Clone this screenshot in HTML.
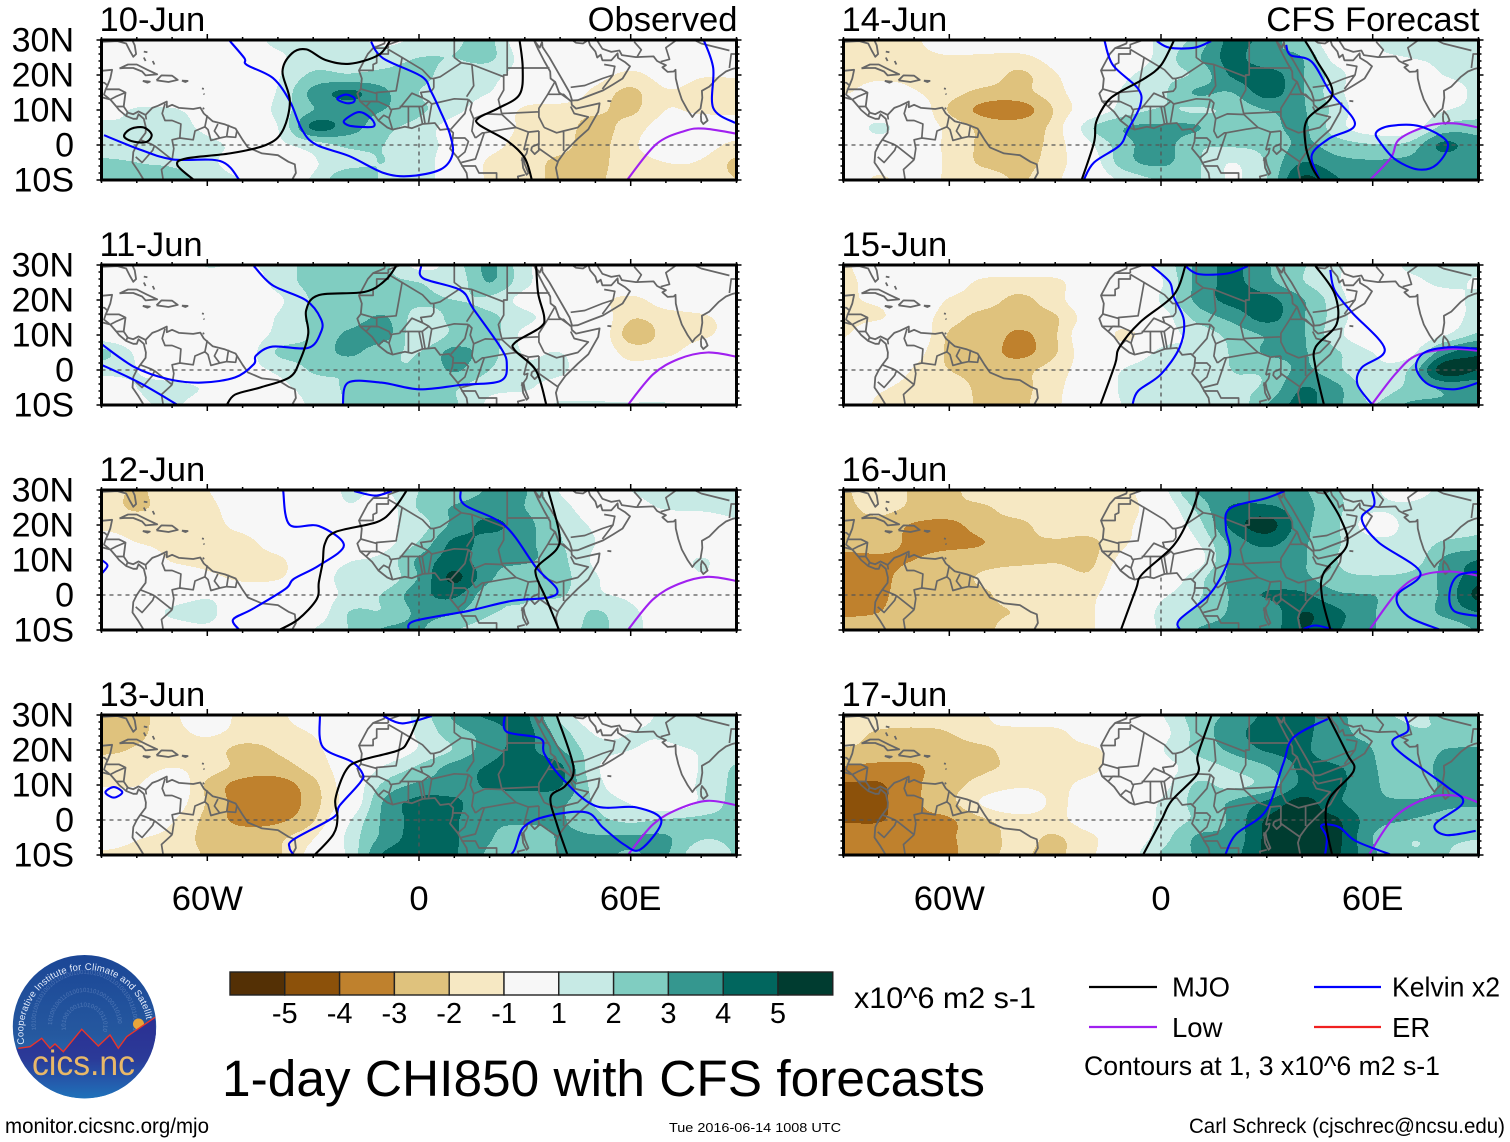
<!DOCTYPE html>
<html lang="en">
<head>
<meta charset="utf-8">
<title>1-day CHI850 with CFS forecasts</title>
<style>
html,body{margin:0;padding:0;background:#fff;}
#chart{display:block;width:1510px;height:1142px;font-family:"Liberation Sans",Arial,sans-serif;}
text{font-family:"Liberation Sans",Arial,sans-serif;fill:#000;}
</style>
</head>
<body>
<svg id="chart" xmlns="http://www.w3.org/2000/svg" width="1510" height="1142" viewBox="0 0 1510 1142">
  <defs>
    <linearGradient id="logoSky" x1="0" y1="0" x2="0" y2="1">
      <stop offset="0" stop-color="#1b4696"/><stop offset="0.55" stop-color="#25589f"/><stop offset="1" stop-color="#2a78bf"/>
    </linearGradient>
    <linearGradient id="logoHill" x1="0" y1="0" x2="0" y2="1">
      <stop offset="0" stop-color="#2b2f92"/><stop offset="0.5" stop-color="#2b3a98"/><stop offset="1" stop-color="#1f74bb"/>
    </linearGradient>
    <clipPath id="logoClip"><circle cx="84.5" cy="1026.7" r="71.7"/></clipPath>
    <path id="logoArc" d="M 24.5 1044 A 62 62 0 1 1 146.5 1020"/>
    <path id="logoBin1" d="M 36 1030 A 49 49 0 1 1 133 1030"/>
    <path id="logoBin2" d="M 52 1025 A 33 33 0 1 1 118 1025"/>
    <path id="logoBin3" d="M 66 1030 A 19 19 0 1 1 103 1030"/>
  </defs>
  <g id="panels"></g>
  <g id="colorbar"></g>

  <text x="854" y="1008" font-size="30" textLength="182" lengthAdjust="spacingAndGlyphs">x10^6 m2 s-1</text>
  <text x="222" y="1096" font-size="51.4" textLength="763" lengthAdjust="spacingAndGlyphs">1-day CHI850 with CFS forecasts</text>

  <g>
    <line x1="1089" y1="987" x2="1157" y2="987" stroke="#000" stroke-width="2.2"/>
    <text x="1172" y="996.5" font-size="27.5" textLength="58" lengthAdjust="spacingAndGlyphs">MJO</text>
    <line x1="1314" y1="987" x2="1381" y2="987" stroke="#0000ff" stroke-width="2.2"/>
    <text x="1392" y="996.5" font-size="27.5" textLength="108" lengthAdjust="spacingAndGlyphs">Kelvin x2</text>
    <line x1="1089" y1="1027" x2="1157" y2="1027" stroke="#a020f0" stroke-width="2.2"/>
    <text x="1172" y="1037" font-size="27.5">Low</text>
    <line x1="1314" y1="1027" x2="1381" y2="1027" stroke="#f02020" stroke-width="2.2"/>
    <text x="1392" y="1037" font-size="27.5">ER</text>
    <text x="1084" y="1075" font-size="26.5" textLength="356" lengthAdjust="spacingAndGlyphs">Contours at 1, 3 x10^6 m2 s-1</text>
  </g>

  <text x="5" y="1133" font-size="21" textLength="204" lengthAdjust="spacingAndGlyphs">monitor.cicsnc.org/mjo</text>
  <text x="669" y="1132" font-size="13" textLength="172" lengthAdjust="spacingAndGlyphs">Tue 2016-06-14 1008 UTC</text>
  <text x="1189" y="1133" font-size="21" textLength="316" lengthAdjust="spacingAndGlyphs">Carl Schreck (cjschrec@ncsu.edu)</text>

  <g>
    <circle cx="84.5" cy="1026.7" r="71.7" fill="url(#logoSky)"/>
    <g opacity="0.25" fill="#cfe0ff" font-size="6">
      <text style="fill:#cfe0ff"><textPath href="#logoBin1">1010010011010010110100100110100101101001001101001011010010011010010110</textPath></text>
      <text style="fill:#cfe0ff"><textPath href="#logoBin2">10100100110100101101001001101001011010010011</textPath></text>
      <text style="fill:#cfe0ff"><textPath href="#logoBin3">101001001101001011010</textPath></text>
    </g>
    <circle cx="138.5" cy="1024" r="5.5" fill="#e8a53a"/>
    <g clip-path="url(#logoClip)">
      <polygon points="10,1050 18.3,1048.3 30,1046.7 41.7,1038.3 50,1048.3 55,1044 63.3,1051.7 81.7,1029.3 98.3,1046 110,1035 118.3,1048.3 126.7,1036.7 155,1017.3 160,1100 10,1100" fill="url(#logoHill)"/>
      <polyline points="18.3,1048.3 30,1046.7 41.7,1038.3 50,1048.3 55,1044 63.3,1051.7 81.7,1029.3 98.3,1046 110,1035 118.3,1048.3 126.7,1036.7 155,1017.3" fill="none" stroke="#e8352b" stroke-width="1.4"/>
    </g>
    <text font-size="9.5" style="fill:#e6eefc"><textPath href="#logoArc" textLength="205" lengthAdjust="spacing">Cooperative Institute for Climate and Satellites</textPath></text>
    <text x="32" y="1075" font-size="35" textLength="103" lengthAdjust="spacingAndGlyphs" style="fill:#e8b868">cics.nc</text>
  </g>
</svg>

<script>
// ---------- colour scale ----------
const colorLevels = [-5,-4,-3,-2,-1,1,2,3,4,5];
const colorLevelLabels = ['-5','-4','-3','-2','-1','1','2','3','4','5'];
const bandColors = ['#543005','#8c510a','#bf812d','#dfc27d','#f6e8c3','#f7f7f7','#c7eae5','#80cdc1','#35978f','#01665e','#003c30'];

// ---------- axis labels ----------
const lonTickValues = [-60,0,60];
const lonTickLabels = ['60W','0','60E'];
const latTickValues = [30,20,10,0,-10];
const latTickLabels = ['30N','20N','10N','0','10S'];
const panelDates = ['10-Jun','11-Jun','12-Jun','13-Jun','14-Jun','15-Jun','16-Jun','17-Jun'];
const columnTags = ['Observed','CFS Forecast'];

// ---------- CHI850 anomaly fields: rows 30N..10S every 5deg, columns 90W..90E every 10deg ----------
const chiJun10 = [
[0,0,0,0,0.3,1.3,1.3,1.3,0.8,1.2,1.8,2.2,0,0,0,0,0,0,0],
[0,0,0,0,0,0.8,1.5,1.5,1.5,2.0,2.0,2.2,0.5,0,0,0,0,0,0],
[0,0,0,0,0,0.9,2.2,2.1,2.3,2.3,1.5,1.3,0.5,0,-0.5,-1.3,-0.5,-0.9,-0.9],
[0,0,0,0,0,1.1,3.3,4.2,3.2,2.0,1.5,1.0,0,0,-1.3,-2.2,-1.1,-1.3,-1.3],
[0.5,1.1,1.1,0.5,0,1.3,3.0,3.4,3.0,2.2,1.3,0.2,-1.2,-1.5,-1.8,-2.2,-1.0,-1.2,-1.3],
[1.3,1.0,1.3,0.8,0.3,1.0,4.2,3.5,2.3,1.6,0.5,0,-1.3,-1.5,-2.4,-1.5,-0.5,-0.2,-0.3],
[1.5,1.3,1.5,1.2,0.8,0.8,1.5,2.2,2.0,1.3,0.7,-0.5,-1.5,-1.7,-2.4,-1.2,-0.5,-0.5,-1.3],
[2.2,2.0,1.8,1.2,0.6,0.3,0.9,1.6,2.0,1.3,0.5,-1.2,-1.6,-2.2,-2.3,-1.4,-1.0,-1.1,-2.2],
[3.0,2.2,2.6,1.5,1.0,1.0,1.1,3.0,1.8,1.3,0.5,-1.2,-1.5,-2.3,-2.2,-1.4,-1.2,-1.4,-2.0]];
const chiJun11 = [
[0,0,0,1.1,0.8,1.5,2.3,2.2,2.2,0.7,1.5,3.2,1.3,0,0,0,0,0,0],
[0,0,0,0,0,1.4,2.3,2.4,2.2,2.0,1.4,3.0,1.3,0,0,0,0,0,0],
[0,0,0,0,0,0.8,2.1,2.1,2.2,2.2,2.0,1.8,0.6,0,-0.6,-1.3,-0.4,0,0],
[0,0,0,0,0,1.1,2.2,2.4,3.1,1.6,2.2,2.2,1.3,0.4,0,-1.9,-1.5,-1.2,-0.5],
[0.3,0,0,0,0.2,1.3,2.1,3.2,3.4,1.3,2.2,2.4,0.7,0.1,0,-2.4,-1.7,-1.2,-0.6],
[2.3,0.8,0,0,0.3,2.1,2.3,3.2,2.3,2.0,3.3,2.4,0.9,1.0,0,-1.4,-1.3,-0.3,0],
[1.3,1.0,0.5,0.3,0.6,1.2,2.1,2.1,2.1,2.1,3.1,2.0,1.2,1.2,0,-0.6,0,0,0],
[0.5,1.0,1.2,0.9,0.5,0.7,1.5,2.1,2.1,2.1,2.1,1.3,1.1,0.6,0,0,0,0,0],
[0,0.8,1.1,0.6,0.5,0.4,1.2,2.1,2.1,2.1,2.1,0.8,0.5,1.1,1.2,1.1,1.1,0.5,0]];
const chiJun12 = [
[-1.6,-2.1,-1.5,-1.05,0,0,0,1.2,0.9,2.0,2.3,3.1,3.1,0.9,0,1.0,1.2,1.1,1.3],
[-1.6,-2.1,-1.6,-1.3,-0.3,0,0,0.9,0.5,2.1,3.1,3.5,3.0,1.5,0.3,0.6,1.1,1.2,1.4],
[-1.3,-1.5,-1.5,-1.4,-0.6,0,0,0.4,0.8,1.5,3.3,4.2,3.4,1.9,0.8,0.3,0,0,0.7],
[-0.3,-1.0,-1.3,-1.4,-1.4,-0.3,0,0.3,0.6,2.1,4.2,3.6,3.3,2.1,1.0,0.3,0,0,0],
[0,0,-1.1,-1.4,-1.5,-1.2,0,0.9,1.3,3.2,4.4,3.3,3.2,2.3,0.8,0,0,1.1,0],
[0,0,0,-0.6,-1.3,-1.1,0,1.5,1.3,3.1,5.2,3.2,2.1,2.3,1.1,0.3,0,0.9,0],
[0,0,0.3,0.8,0.2,0,0.3,1.3,2.1,3.6,4.2,2.3,2.1,2.1,1.2,0.8,0.3,0.7,0.3],
[0,0,1.2,1.3,0,0,0.2,2.0,2.1,3.2,3.1,2.1,1.8,1.3,2.1,1.2,0.5,0,0],
[0,0,0.3,0.8,0,0,1.0,2.0,3.1,3.1,2.1,1.5,1.2,1.5,2.2,1.4,0.3,0,0]];
const chiJun13 = [
[-2.4,-2.3,-1.3,0,-1.4,-1.3,0,0,0,1.4,3.2,4.2,4.2,1.7,0.3,0.8,1.1,1.5,1.3],
[-2.2,-2.2,-1.4,-0.8,-1.4,-1.5,-0.9,0,0,1.2,2.6,3.4,4.3,2.5,0.9,1.0,1.1,1.6,1.3],
[-2.2,-1.9,-1.5,-1.5,-2.3,-1.9,-1.3,-0.2,0.1,1.1,2.1,3.6,4.2,3.1,1.4,1.0,0.8,1.1,1.5],
[-1.3,-1.5,-1.0,-1.5,-2.3,-2.4,-1.6,-0.3,1.1,2.2,3.4,4.1,4.4,4.2,1.2,0.3,0,1.1,2.1],
[-1.1,-1.05,0,-2.2,-3.4,-3.5,-2.3,-0.2,2.2,3.2,3.4,4.2,4.3,4.1,1.5,0,0,1.2,2.2],
[0,0,-0.3,-2.1,-3.5,-3.8,-2.4,-0.3,3.1,4.3,4.2,3.2,3.3,3.2,1.9,0.9,0,1.2,2.3],
[0,0,-0.9,-2.3,-3.3,-3.2,-2.1,0.8,3.2,4.3,4.1,3.2,3.2,3.1,2.3,1.8,2.1,2.2,2.2],
[-0.3,-0.9,-1.3,-2.3,-2.4,-2.2,-1.1,1.3,3.3,4.4,4.1,3.1,2.3,3.1,3.1,3.1,3.1,2.1,2.2],
[-1.2,-1.3,-1.4,-2.1,-2.2,-2.1,-0.5,1.2,4.1,4.3,4.1,2.8,2.0,3.1,3.2,2.9,3.1,1.2,2.1]];
const chiJun14 = [
[-1.4,-1.4,-1.2,0,0,0,0,0,0,1.3,2.3,4.3,3.5,2.1,0,0.9,1.2,1.2,1.5],
[-1.3,-1.3,-1.3,-1.1,-1.2,-1.3,-0.5,0,0,1.4,2.8,4.3,3.2,3.0,0.5,0.8,1.0,1.2,1.6],
[-1.3,-1.2,-1.2,-1.2,-1.4,-2.2,-1.1,0,0.8,1.7,2.2,4.1,4.5,3.1,1.4,0,0.2,1.0,1.4],
[-1.1,-0.5,-0.9,-1.6,-2.3,-2.3,-1.4,0,1.2,1.8,3.1,3.0,4.4,3.1,1.3,0,0,0.2,1.3],
[0,0,0,-2.1,-3.3,-3.5,-1.9,0,1.5,2.1,1.9,2.2,3.0,3.1,1.6,0,0,0.9,1.4],
[0,1.2,0,-1.3,-2.3,-2.4,-1.6,1.8,3.0,3.2,3.1,2.1,2.6,3.2,1.4,0.3,0.3,2.3,2.6],
[0,0.3,0,-1.3,-2.2,-2.3,-1.6,0.8,2.7,3.4,2.2,2.1,2.3,3.2,2.5,2.1,2.3,4.2,3.3],
[0,-0.3,-0.3,-1.2,-2.2,-2.3,-1.5,0.3,2.6,3.2,2.2,1.0,2.1,4.0,3.3,3.1,3.2,3.3,3.1],
[0,-1.2,-0.3,-1.2,-1.4,-2.1,-1.2,0.1,1.3,2.1,2.1,0.9,2.0,5.2,4.1,3.2,3.1,3.1,3.1]];
const chiJun15 = [
[-1.2,0,0,0,0,0,0,0,0,1.2,3.2,4.2,3.1,2.1,1.2,0,1.2,1.2,1.3],
[-1.4,-0.3,0,-0.3,-1.3,-1.4,-1.3,0,0,0.9,3.2,4.2,3.3,2.1,1.1,0,0.6,1.2,0.9],
[-1.1,-0.8,0,-1.1,-1.6,-2.2,-1.4,0,0,1.1,3.2,4.3,4.3,3.1,1.4,0.1,0,0.4,1.3],
[-1.2,-1.1,-0.4,-1.6,-2.3,-2.4,-2.1,-0.4,0,0.5,2.3,3.3,4.3,3.1,1.5,0,0,0.2,1.5],
[-1.1,0,0,-2.1,-2.3,-3.2,-2.1,0,-1.3,0.5,1.3,2.3,3.1,3.1,1.3,0,0,0.9,2.2],
[0,0,-0.5,-2.2,-2.5,-3.3,-2.1,-0.2,0,1.2,1.1,2.1,3.1,3.1,2.1,1.0,0.5,3.6,4.8],
[0,0,-1.1,-2.0,-2.5,-2.3,-1.5,-0.2,1.1,1.5,1.5,2.0,2.2,3.2,2.2,1.2,2.0,5.5,5.0],
[0,-0.8,-1.3,-1.3,-2.4,-2.3,-1.3,0,1.2,1.4,1.3,1.8,2.2,4.0,3.2,1.5,2.2,3.2,3.2],
[0,-1.2,-1.2,-1.2,-2.3,-2.2,-1.2,0,1.1,1.4,1.4,1.2,3.0,4.3,3.2,2.0,3.1,3.1,3.1]];
const chiJun16 = [
[-2.2,-1.1,-2.2,-2.2,-1.5,-1.4,-1.4,-1.4,-1.3,0.5,3.1,3.1,3.1,3.1,2.1,1.2,0.5,1.3,1.8],
[-2.3,-1.6,-2.2,-2.2,-2.1,-1.5,-1.4,-1.4,-1.4,0,2.2,4.1,4.2,3.4,2.2,1.2,1.2,1.5,1.1],
[-2.4,-2.4,-3.1,-3.3,-2.4,-2.2,-1.5,-1.5,-1.2,0,1.5,4.3,5.4,3.4,2.1,0.5,1.2,1.3,1.8],
[-2.5,-2.4,-3.3,-3.4,-3.0,-2.2,-2.1,-2.2,-1.1,0,0.9,3.3,4.3,3.2,2.1,1.3,1.2,2.1,2.3],
[-3.4,-3.3,-3.0,-2.4,-2.3,-2.2,-2.1,-2.2,-0.5,0,0.4,3.2,3.3,3.1,2.0,1.3,1.2,3.1,4.0],
[-3.4,-3.4,-2.3,-2.2,-1.9,-1.5,-1.4,-1.8,0,0,1.5,3.2,3.2,3.2,2.3,2.1,2.3,3.2,4.6],
[-3.3,-3.3,-2.1,-2.1,-2.1,-1.5,-1.3,-1.2,0,0.8,1.8,3.1,4.1,4.2,3.2,3.0,2.5,3.2,5.3],
[-3.2,-3.0,-2.2,-2.6,-2.2,-1.9,-1.3,-1.1,0,1.2,2.2,3.1,3.2,5.0,4.2,3.1,2.3,3.2,4.0],
[-2.3,-2.3,-2.2,-2.3,-2.2,-1.4,-1.3,-1.1,0,1.2,3.0,3.2,3.3,5.0,4.1,3.1,2.1,2.2,3.1]];
const chiJun17 = [
[-1.3,-1.3,-1.4,-1.5,-1.1,0,0,0,0,0.9,2.5,3.2,4.2,4.3,3.3,2.3,1.9,2.1,2.2],
[-1.6,-2.1,-2.2,-2.0,-1.3,-1.4,-1.3,-0.3,0,0.6,2.3,3.6,4.4,4.3,3.2,2.8,2.1,2.1,2.2],
[-2.1,-2.3,-2.3,-2.4,-2.2,-1.4,-1.3,-1.2,-0.3,0.9,2.2,3.2,4.1,4.2,3.2,3.0,2.1,3.0,3.1],
[-3.1,-3.3,-3.2,-2.3,-2.1,-1.8,-1.5,-1.3,-0.2,0.5,1.5,2.1,2.9,4.2,4.1,3.1,2.5,3.2,3.2],
[-4.1,-4.1,-3.2,-2.3,-1.7,-1.2,-1.3,-0.6,0,0.6,2.1,1.8,2.4,4.2,4.2,3.2,2.4,3.1,3.1],
[-4.3,-4.2,-3.2,-2.3,-0.8,0,-1.2,-0.3,0,1.1,2.3,3.1,4.2,5.3,4.2,3.2,3.1,3.1,3.1],
[-4.1,-4.1,-3.2,-3.1,-2.1,-1.5,-1.4,-0.3,0,1.2,2.2,3.2,5.1,5.3,5.1,3.4,3.0,2.8,2.5],
[-3.2,-3.2,-3.2,-3.1,-2.4,-1.7,-2.1,-1.2,0,1.5,3.1,3.3,5.2,5.3,5.2,3.0,2.1,2.2,2.1],
[-3.2,-3.2,-3.2,-3.2,-2.2,-1.9,-2.2,-1.2,0.3,2.1,3.1,3.6,5.2,5.3,5.1,3.2,2.1,2.1,1.2]];
const chiFields = [chiJun10,chiJun11,chiJun12,chiJun13,chiJun14,chiJun15,chiJun16,chiJun17];

// ---------- filtered-wave contours, [lon, lat] ----------
const mjoJun10 = [
 [[-8.1,30],[-11.5,25.7],[-19.7,23.2],[-26.5,24.3],[-31.9,27.3],[-36,26.2],[-38.7,21],[-36.6,12.5],[-38.7,4],[-43.4,0],[-53.6,-2.4],[-65.8,-3.8],[-68.5,-5.7],[-63.8,-10]],
 [[-83.5,3],[-81.5,4.7],[-78,5],[-75.8,3],[-77,1],[-80,0.8],[-83,1.8],[-83.5,3]],
 [[28.5,30],[29.4,22],[28.5,14.4],[22.4,10.5],[17,7.8],[17,5.8],[25,1.2],[29.9,-3.6],[32,-10]]];
const kelvinJun10 = [
 [[-53.6,29.7],[-49.5,24.8],[-48.8,22.9],[-41.4,19.1],[-36.6,12.5],[-33.2,4.4],[-29.2,0.1],[-19.7,-3.2],[-10.2,-7.9],[-2.7,-8.9],[6.1,-7],[9.5,-2.7],[8.8,3],[6.1,9.6],[3.4,15.3],[0.7,19.6],[-10.2,24.8],[-13.6,29.5]],
 [[-23.2,13.2],[-20.8,14.4],[-18.4,13.5],[-18.6,12.2],[-20.8,12],[-23.2,13.2]],
 [[-21.2,7],[-17,9.4],[-13.5,7.5],[-12.8,5.3],[-17,5.2],[-20,5.6],[-21.2,7]],
 [[-89.3,2.8],[-79.1,-1.3],[-69.9,-4.1],[-56.3,-4.6],[-50.9,-10]],
 [[80.7,30],[83.4,22],[83.4,10.6],[89.6,6.3]]];
const lowJun10 = [[[59,-10],[67.2,0.2],[75.3,4],[80.7,4.7],[89.6,3.3]]];
const mjoJun11 = [
 [[-6.5,29.7],[-9.5,25.7],[-15.4,22.3],[-28.4,21.4],[-32,17],[-31.4,10.3],[-33.8,2.6],[-36.7,-2.1],[-45,-5],[-52.1,-7],[-54.5,-10]],
 [[33.2,29.7],[33.8,21.8],[35.5,15.1],[34.4,12.2],[27.3,7.9],[27.3,5.5],[33.2,-0.2],[36.1,-10]]];
const kelvinJun11 = [
 [[-46.8,29.7],[-41.5,24.2],[-32,19.9],[-27.8,14.6],[-27.8,10.8],[-31.4,6.3],[-41.5,6.7],[-46.2,4.1],[-46.8,1.7],[-52.1,-2.1],[-61.6,-3.6],[-71.1,-2.6],[-80.6,0.8],[-90,7.4]],
 [[-90,1.5],[-79.3,-3.6],[-68.7,-9.8]],
 [[0.6,29.7],[1.2,26.2],[11.8,22.8],[15.4,17.5],[23.1,6.5],[24.9,1.7],[23.1,-3.1],[11.8,-4.3],[0,-5.5],[-10.7,-3.6],[-20.1,-3.6],[-21.6,-10]]];
const lowJun11 = [[[59.2,-10],[66.4,-1.2],[73.5,3.1],[81.8,5],[90,3.8]]];
const mjoJun12 = [
 [[-3.6,29.7],[-7.1,24.7],[-11.8,20.9],[-23.7,18],[-26.7,14.6],[-27.3,9.4],[-28.4,3.6],[-29,-1.2],[-34.3,-7],[-39.7,-10]],
 [[36.7,29.7],[39.7,18],[39.1,13.2],[33.8,8.4],[33.2,5.5],[36.1,-1.2],[39.7,-10]]];
const kelvinJun12 = [
 [[-38.5,29.7],[-36.7,20.1],[-28.4,19.7],[-21.3,14.2],[-28.4,8.4],[-35.5,4.6],[-37.9,1.7],[-47.4,-4.1],[-52.7,-7],[-50.9,-10]],
 [[-18.4,29.7],[-12.4,28.4],[-7.7,29.7]],
 [[11.8,29.7],[13,25.7],[24.3,19.9],[33.2,7.9],[39.1,1.7],[36.7,-0.7],[26.1,-1.7],[14.2,-4.5],[-1.2,-7.4],[-3,-10]],
 [[-89.8,9.9],[-88.3,8.4],[-89.8,6.3]]];
const lowJun12 = [[[59.2,-10],[66.4,-1.2],[73.5,3.1],[81.8,5.2],[90,4]]];
const mjoJun13 = [
 [[0,29.7],[-3,22.8],[-5.9,19.9],[-16.6,17],[-20.7,14.2],[-23.7,6],[-23.1,0.7],[-24.3,-4.1],[-29.6,-10]],
 [[39.1,29.7],[43.8,15.1],[41.5,9.8],[37.3,6.5],[39.1,-1.2],[42.1,-10]]];
const kelvinJun13 = [
 [[-28.1,29.7],[-27.3,20.9],[-19,16.6],[-16,13.2],[-16.6,10.8],[-22.5,4.1],[-24.3,0.7],[-35.5,-5.5],[-36.7,-7.9],[-35.5,-10]],
 [[-10.1,29.7],[-4.7,27.6],[3.6,29.7]],
 [[24.3,29.7],[24.9,25.2],[34.4,23.3],[35.5,19],[40.3,12.2],[49.8,4.1],[61.6,3.6],[68.7,-0.2],[62.8,-8.4],[58.1,-7],[52.1,-2.1],[47.4,2.2],[36.7,1.2],[29.6,-2.1],[26.1,-9.8],[19,-10]],
 [[-88.9,7.9],[-86.5,9.4],[-84.1,7.9],[-86.5,6.4],[-88.9,7.9]]];
const lowJun13 = [[[59.2,-10],[66.4,-1.2],[73.5,3.1],[81.8,5.5],[90,4.2]]];
const mjoJun14 = [
 [[3.6,29.7],[0,22.8],[-4.7,19],[-11.8,15.1],[-15.4,12.2],[-18.4,6.5],[-19,0.7],[-22.5,-10]],
 [[40.9,29.7],[43.8,24.7],[48.6,14.6],[41.5,7.4],[40.9,0.7],[42.7,-6],[45,-10]]];
const kelvinJun14 = [
 [[-16,29.7],[-13.6,22.8],[-6.5,16.1],[-5.9,11.3],[-9.5,4.1],[-11.8,-0.2],[-19,-5],[-21.9,-10]],
 [[-1.2,29.7],[2.4,27.8],[9.5,27.8],[14.2,29.7]],
 [[35.5,28.6],[36.7,25.7],[42.7,23.8],[48,15.1],[55,6],[47.4,1.7],[42.7,-3.1],[45,-10]],
 [[61,3.6],[65.2,5.5],[73.5,5.3],[81.2,0.7],[78.2,-5.5],[72.9,-7],[66.4,-4.1],[62.2,0.7],[61,3.6]]];
const lowJun14 = [[[59.2,-10],[65.2,-3.6],[67.6,1.7],[75.8,5.5],[82.9,6.2],[90,5]]];
const mjoJun15 = [
 [[6.9,29.7],[3.6,21.4],[-5.9,13.7],[-11.8,6.5],[-13,1.7],[-17.2,-10]],
 [[43.8,29.7],[49.2,21.8],[49.8,13.2],[43.8,6.5],[43.8,0.7],[46.2,-10]]];
const kelvinJun15 = [
 [[-2.6,29.7],[2.4,25.2],[3.6,20.9],[6.5,14.2],[5.3,6.5],[0,-1.2],[-6.5,-6],[-8.1,-10]],
 [[6.9,29.7],[10.7,27.4],[19,27.6],[24.6,29.7]],
 [[48,28.6],[49.2,22.8],[54,16.6],[63.4,6],[56.9,0.7],[55.7,-4.1],[59.8,-9.8]],
 [[90,6],[81.8,6.5],[74.7,5],[72.3,0.7],[75.8,-4.1],[83,-5.5],[90,-3.6]]];
const lowJun15 = [[[59.8,-9.8],[66.4,-1.2],[72.3,4.1],[81.8,6],[90,5.5]]];
const mjoJun16 = [
 [[10.7,29.7],[8.3,22.8],[3.6,14.2],[-5.3,6],[-7.1,1.7],[-11.3,-9.8]],
 [[46.2,29.7],[50.9,21.8],[52.7,14.2],[46.2,6.5],[45.6,-0.2],[48,-9.8]]];
const kelvinJun16 = [
 [[35,29.7],[29.6,27.6],[19.5,24.7],[18.4,19],[19.5,11.3],[14.2,0.7],[5.3,-7],[5.3,-9.8]],
 [[59.8,29.7],[60.4,25.7],[56.9,21.8],[61.6,15.1],[73.5,6.5],[66.9,-0.2],[69.9,-6],[78.8,-9.8]],
 [[40.3,-9.7],[43.8,-8.7],[48.6,-9.8]],
 [[90,6.7],[84.1,5.5],[81.8,0.7],[83,-4.5],[90,-6]]];
const lowJun16 = [[[59.2,-9.8],[66.9,0.7],[73.5,5.5],[81.8,6.7],[90,5.5]]];
const mjoJun17 = [
 [[14.3,29.8],[12.1,23.6],[10.3,17.9],[10.3,13.1],[3,5.5],[0,-0.3],[-5.1,-10]],
 [[47.3,29.8],[52.8,18.8],[54.6,14],[47.9,6.4],[46.7,-0.3],[48.5,-10]]];
const kelvinJun17 = [
 [[47.3,28.9],[37.6,23.6],[34.6,16],[29.7,2.6],[21.2,-4.1],[18.2,-10]],
 [[69.2,29.8],[70,25.5],[65.9,21.2],[80.7,9.8],[85.6,5],[77.7,-1.2],[80.7,-4.3],[89.2,-3.1]],
 [[46.5,-10],[47,-5],[45.5,-1.5],[50.4,-2],[55.2,-6],[64.9,-9.8]]];
const lowJun17 = [[[58.9,-10],[66.1,0.7],[75.8,6.4],[84.3,6.9],[90,5]]];
const mjoContours = [mjoJun10,mjoJun11,mjoJun12,mjoJun13,mjoJun14,mjoJun15,mjoJun16,mjoJun17];
const kelvinContours = [kelvinJun10,kelvinJun11,kelvinJun12,kelvinJun13,kelvinJun14,kelvinJun15,kelvinJun16,kelvinJun17];
const lowContours = [lowJun10,lowJun11,lowJun12,lowJun13,lowJun14,lowJun15,lowJun16,lowJun17];

// ---------- geography, [lon, lat] ----------
const coastlines = [
 [[-90,29.5],[-85.5,29.7],[-83,29],[-82,27],[-81,25.2],[-80.2,26],[-80.6,28.5],[-81.3,30]],
 [[-90.5,20],[-90,21.2],[-87,21.5],[-87.5,19],[-88.3,17],[-88.8,15.9],[-85,15.9],[-83.2,15],[-83.7,11],[-82.5,9.2],[-81,8.8],[-79.5,9.6],[-77.5,8.6],[-75.6,10.6],[-74,11.2],[-71.5,12.4],[-71.5,10.8],[-70,11.5],[-68,10.6],[-64,10.3],[-62,10.7],[-61,9],[-58.5,6.8],[-55,5.9],[-52,4.7],[-50,1.5],[-48.5,-0.7],[-44.5,-2.4],[-40,-2.9],[-37,-4.8],[-35.2,-5.5],[-34.9,-8],[-36,-10]],
 [[-90.5,13.8],[-87.5,13],[-85.8,11],[-85,10],[-83,8.3],[-81,7.5],[-80,7.5],[-79.5,8.8],[-78,7.5],[-77.4,5],[-77.5,3.5],[-79,1.5],[-80,0],[-81,-2],[-81.2,-5],[-79.5,-7.5],[-78,-10]],
 [[-84.9,21.9],[-82.5,23],[-80,23],[-77,21.5],[-74.2,20.2],[-77.5,19.9],[-78.5,21],[-81,22],[-83.5,22],[-84.9,21.9]],
 [[-74.4,18.5],[-73,19.9],[-70,19.8],[-68.4,18.6],[-71,18],[-74.4,18.5]],
 [[-78.3,18.3],[-76.3,18.1],[-77,17.8],[-78.3,18.3]],
 [[-67.2,18.4],[-65.6,18.3],[-66.2,18],[-67.2,18.4]],
 [[-78,26.7],[-77,26.5]],[[-78,25],[-77.5,24]],[[-75.5,24],[-75,23]],[[-61.5,16.2],[-61,16]],[[-61,14.7],[-60.9,14.4]],[[-61.2,10.7],[-61,10.2]],
 [[-9.6,30],[-9.8,29],[-13,27.7],[-14.5,26],[-17,21.3],[-16.2,19],[-16.5,16],[-17.5,14.7],[-16.7,12.5],[-15,11],[-13.3,9.5],[-11.5,7],[-9,5],[-7.5,4.4],[-4,5.2],[-2,4.8],[1,6],[4.5,6.3],[6,4.3],[8.5,4.6],[9.7,3.5],[9.5,1],[8.8,-1],[11,-3.7],[12,-5.5],[13.5,-8],[13.8,-10]],
 [[32.6,29.9],[33.7,27.5],[35.5,24],[37.2,21],[37.3,19],[38.6,18],[39.7,15],[43.2,12.5],[43.3,11.5],[44.5,10.4],[51.2,11.9],[50.8,9.5],[48,4.5],[45,1.8],[41.5,-1.7],[39.5,-4.5],[38.8,-6.5],[39.5,-10]],
 [[34.9,29.5],[35,28],[37,25],[39,21.5],[41,18],[42.7,15],[43.4,12.7],[45,12.8],[48,14],[52.2,15.6],[55,17.3],[57.7,19],[59.8,22.5],[58.5,23.6],[56.4,24.9],[56.3,26.2],[54.5,24.2],[52,24.2],[51.5,25.8],[50.5,25],[50,26.7],[48.5,28.5],[48,30]],
 [[32.6,29.9],[34.2,27.8],[34.9,29.5]],
 [[48.5,30],[50.5,29.8],[52,27.5],[54.5,26.6],[56.8,27],[57.5,25.7],[61.5,25.1],[66.5,25.3],[67.5,24],[68.5,23.5],[70,22.8],[69,22.2],[70.5,20.9],[72.2,21],[72.7,21.5],[72.8,19],[73.5,16],[74.5,13],[76.2,9.9],[77.5,8],[78.2,9],[79.8,10.4],[80.3,13.5],[80.2,15.5],[82.3,16.7],[85,19.5],[87,21],[89,21.8],[90,22]],
 [[79.9,8.5],[80.2,9.7],[81.2,8.5],[81.8,7],[80.6,6],[80,6.8],[79.9,8.5]],
 [[53.4,12.6],[54.5,12.5]],
 [[32,-0.5],[33.9,0.3],[34,-1.5],[32.8,-2.6],[31.8,-1.5],[32,-0.5]],
 [[29.2,-3.5],[29.5,-6.5],[30.5,-8.5],[31,-8],[30,-5.5],[29.6,-3.5]]];
const borderLines = [
 [[-77.5,8.6],[-77.3,7.3]],[[-72,11.8],[-72.8,9],[-72,7],[-70,7],[-67.5,6],[-67.8,2],[-70,1.5],[-69.5,-1],[-70,-4.2]],
 [[-79,1.5],[-76,0.3],[-75,-0.2]],[[-80.3,-3.4],[-78.5,-5],[-75.5,-1.5],[-75,-0.2]],[[-75,-0.2],[-70,-4.2]],[[-70,-4.2],[-73,-7],[-72.5,-10]],
 [[-67.8,2],[-64,1.5],[-63.5,4],[-60.7,5.2]],[[-60,8.5],[-60.7,5.2]],[[-60.7,5.2],[-59.8,4.4],[-59,1.3],[-56.5,2]],[[-57,6],[-58,4],[-56.5,2]],[[-54,5.8],[-54.5,2.4]],[[-54.5,2.4],[-52,2.2],[-51.6,4.2]],[[-56.5,2],[-54.5,2.4]],
 [[-88.8,15.9],[-89.3,14.4],[-87.8,13.2]],[[-83.2,15],[-86,13.8],[-87.5,13]],[[-85.7,11],[-83.7,11]],[[-83,8.3],[-82.6,9.5]],[[-90.5,17.8],[-89.2,17.8],[-88.3,17]],
 [[-8.7,27.7],[-8.7,28.7],[-5,30]],[[-13,27.7],[-8.7,27.7]],[[-17,21.3],[-13,21.3],[-13,23],[-12,23.5],[-12,26],[-8.7,26],[-8.7,27.3]],[[-8.7,27.3],[-4.8,25],[-6.5,15.5],[-12,15],[-12.3,14.8],[-16.5,16]],
 [[-4.8,25],[1,21.5],[3.3,19],[4.2,19],[4.2,16.3]],[[4.2,16.3],[3.5,15.4],[0.5,15],[1,13.5]],[[4.2,19],[6,19.5],[12,23.5]],[[12,23.5],[10,25],[10,30]],[[12,23.5],[15,23],[24,19.5]],
 [[25,30],[25,22]],[[25,22],[37,22]],[[24,19.5],[24,20],[25,20],[25,22]],[[15,23],[15.5,16.9],[13.5,13.8]],[[24,19.5],[24,15.7],[22.5,13],[23.5,8.7]],[[23.5,8.7],[18.8,8.9],[15.5,7.5]],[[15.5,7.5],[14.5,10],[15,12],[14,13]],
 [[14,13],[10,13.2],[3.6,11.7],[2.8,12.5],[1,13.5]],[[3.6,11.7],[2.7,6.4]],[[0.9,11],[1.7,6.2]],[[-5.5,11],[-3,11],[0.9,11],[2.8,12.5]],[[1,13.5],[-2,14.8],[-5.5,10.5]],[[-3,11],[-3,5]],[[0,11],[1,6]],
 [[-7.5,4.4],[-8.5,7.7],[-7.7,10.2],[-5.5,10.5]],[[-11.5,7],[-10,8.5],[-8.5,7.7]],[[-15,11],[-13.7,12.5],[-11.5,12.4],[-8.5,11],[-8,10]],[[-16.7,12.5],[-12,12.4]],[[-12,12.4],[-12,15]],
 [[14,13],[13,9],[9,4.5]],[[15.5,7.5],[15,4],[16,2]],[[9.7,2],[13,2],[14,1],[13,-2],[11,-3.7]],[[16,2],[18,3.5],[18.5,3.5],[17,-1],[16,-4],[12,-5]],[[18.5,3.5],[24,4.5],[27.5,5]],[[23.5,8.7],[27.5,5]],[[23.5,9],[34,9.5]],
 [[27.5,5],[31,3.7],[34,4]],[[31,3.7],[29.7,-1.4]],[[34,4],[34,0]],[[34,-1],[39.2,-4.7]],[[29.7,-1.4],[30.8,-1],[30.5,-2.4],[29,-4.5]],
 [[36.5,14.5],[34,10.5],[34,8],[35.5,5]],[[36.5,14.5],[38.5,18]],[[36.5,14.5],[41,14.5],[43,12.5]],[[35.5,5],[39,3.5],[41,4]],[[41,4],[45,5],[48,8],[44,9],[43,11]],[[41,4],[41,-1.7]],
 [[12,-6],[16,-6],[17,-8],[22,-8],[22,-11]],[[30,-8.5],[28,-9],[28.5,-11]],
 [[43,16.5],[47,17],[52,19],[55,20],[52,16]],[[55,20],[55.5,22.5],[52.5,23]],[[48,30],[46.5,29],[44.5,29.2],[42,31]],[[68.5,23.8],[71,24.5],[70,27.8],[73,30]],[[61.7,25],[63,27.2],[61,29.5]],[[88,22],[88.5,26],[90,26]],[[80,29],[88,27]],[[78,30],[80,29]]];

// ---------- layout / scales ----------
const SVGNS = 'http://www.w3.org/2000/svg';
const PLOT_W = 635, PLOT_H = 140;
const LON_MIN = -90, LON_MAX = 90, LAT_MAX = 30, LAT_MIN = -10;
function panelLeft(col){ return col === 0 ? 101.5 : 843.5; }
function panelTop(row){ return 40 + row * 225; }
function xOf(lon, left){ return left + (lon - LON_MIN) / (LON_MAX - LON_MIN) * PLOT_W; }
function yOf(lat, top){ return top + (LAT_MAX - lat) / (LAT_MAX - LAT_MIN) * PLOT_H; }
function lonAt(x, left){ return LON_MIN + (x - left) / PLOT_W * (LON_MAX - LON_MIN); }
function latAt(y, top){ return LAT_MAX - (y - top) / PLOT_H * (LAT_MAX - LAT_MIN); }

function makeEl(tag, attrs, parent){
  const el = document.createElementNS(SVGNS, tag);
  for (const k in attrs) el.setAttribute(k, attrs[k]);
  if (parent) parent.appendChild(el);
  return el;
}
function catmull(a,b,c,d,t){
  return 0.5*((2*b)+(-a+c)*t+(2*a-5*b+4*c-d)*t*t+(-a+3*b-3*c+d)*t*t*t);
}
function sampleField(field, lon, lat){
  const gx = Math.min(17.9999, Math.max(0, (lon - LON_MIN) / 10));
  const gy = Math.min(7.9999, Math.max(0, (LAT_MAX - lat) / 5));
  const i = Math.floor(gx), j = Math.floor(gy), tx = gx - i, ty = gy - j;
  const rowVals = [];
  for (let m = -1; m <= 2; m++){
    const r = field[Math.max(0, Math.min(8, j + m))];
    rowVals.push(catmull(r[Math.max(0,i-1)], r[i], r[i+1], r[Math.min(18,i+2)], tx));
  }
  return catmull(rowVals[0], rowVals[1], rowVals[2], rowVals[3], ty);
}
function bandOf(v){
  let b = 0;
  while (b < colorLevels.length && v >= colorLevels[b]) b++;
  return b;
}
function smoothPath(points, left, top){
  const p = points.map(q => [xOf(q[0], left), yOf(q[1], top)]);
  const closed = points.length > 2 && points[0][0] === points[points.length-1][0] && points[0][1] === points[points.length-1][1];
  const n = p.length;
  const at = i => {
    if (closed){ const m = n - 1; return p[((i % m) + m) % m]; }
    return p[Math.max(0, Math.min(n-1, i))];
  };
  let d = 'M' + p[0][0].toFixed(1) + ' ' + p[0][1].toFixed(1);
  for (let i = 0; i < n - 1; i++){
    const p0 = at(i-1), p1 = at(i), p2 = at(i+1), p3 = at(i+2);
    d += 'C' + (p1[0]+(p2[0]-p0[0])/6).toFixed(1) + ' ' + (p1[1]+(p2[1]-p0[1])/6).toFixed(1) + ' ' +
         (p2[0]-(p3[0]-p1[0])/6).toFixed(1) + ' ' + (p2[1]-(p3[1]-p1[1])/6).toFixed(1) + ' ' +
         p2[0].toFixed(1) + ' ' + p2[1].toFixed(1);
  }
  return d;
}
function polyPath(lines, left, top){
  return lines.map(line => 'M' + line.map(q => xOf(q[0], left).toFixed(1) + ' ' + yOf(q[1], top).toFixed(1)).join('L')).join('');
}

// ---------- panels ----------
const panelsRoot = document.getElementById('panels');
panelDates.forEach(function(date, idx){
  const col = idx < 4 ? 0 : 1;
  const row = idx % 4;
  const left = panelLeft(col), top = panelTop(row);
  const g = makeEl('g', {}, panelsRoot);
  
  

  const clipId = 'clip' + idx;
  const cp = makeEl('clipPath', {id: clipId}, g);
  makeEl('rect', {x: left, y: top, width: PLOT_W, height: PLOT_H}, cp);
  const plot = makeEl('g', {'clip-path': 'url(#' + clipId + ')'}, g);

  // filled contour bands, one path per colour band
  const bandD = bandColors.map(() => []);
  const px0 = Math.floor(left), px1 = Math.ceil(left + PLOT_W);
  for (let py = top; py < top + PLOT_H; py++){
    const lat = latAt(py + 0.5, top);
    let runStart = px0, runBand = -1;
    for (let px = px0; px <= px1; px++){
      const b = px < px1 ? bandOf(sampleField(chiFields[idx], lonAt(px + 0.5, left), lat)) : -2;
      if (b !== runBand){
        if (runBand >= 0) bandD[runBand].push('M' + runStart + ' ' + py + 'h' + (px - runStart) + 'v1h-' + (px - runStart) + 'z');
        runStart = px; runBand = b;
      }
    }
  }
  bandD.forEach(function(parts, b){
    if (!parts.length) return;
    const band = makeEl('path', {d: parts.join(''), fill: bandColors[b], 'shape-rendering': 'crispEdges'}, plot);
    
    
  });

  // map
  const coast = makeEl('path', {d: polyPath(coastlines, left, top), fill: 'none', stroke: '#666', 'stroke-width': 1.8, 'stroke-linejoin': 'round'}, plot);
  
  
  const borders = makeEl('path', {d: polyPath(borderLines, left, top), fill: 'none', stroke: '#666', 'stroke-width': 1.7, 'stroke-linejoin': 'round'}, plot);
  
  

  // reference lines
  const eq = makeEl('line', {x1: left, x2: left + PLOT_W, y1: yOf(0, top), y2: yOf(0, top), stroke: '#555', 'stroke-width': 1.3, 'stroke-dasharray': '4 4'}, plot);
  
  
  const mer = makeEl('line', {x1: xOf(0, left), x2: xOf(0, left), y1: yOf(5, top), y2: yOf(-10, top), stroke: '#555', 'stroke-width': 1.3, 'stroke-dasharray': '4 4'}, plot);
  
  

  // filtered contours
  lowContours[idx].forEach(function(c){
    const line = makeEl('path', {d: smoothPath(c, left, top), fill: 'none', stroke: '#a020f0', 'stroke-width': 2.1}, plot);
    
    
  });
  kelvinContours[idx].forEach(function(c){
    const line = makeEl('path', {d: smoothPath(c, left, top), fill: 'none', stroke: '#0000ff', 'stroke-width': 2.1}, plot);
    
    
  });
  mjoContours[idx].forEach(function(c){
    const line = makeEl('path', {d: smoothPath(c, left, top), fill: 'none', stroke: '#000', 'stroke-width': 2.1}, plot);
    
    
  });

  // frame and ticks
  const frame = makeEl('rect', {x: left, y: top, width: PLOT_W, height: PLOT_H, fill: 'none', stroke: '#000', 'stroke-width': 3}, g);
  
  
  let tickD = '';
  for (let lon = LON_MIN; lon <= LON_MAX; lon += 10){
    const x = xOf(lon, left).toFixed(1);
    const len = lonTickValues.indexOf(lon) >= 0 ? 6 : 3;
    tickD += 'M' + x + ' ' + top + 'v-' + len + 'M' + x + ' ' + (top + PLOT_H) + 'v' + len;
  }
  for (let lat = LAT_MIN; lat <= LAT_MAX; lat += 2){
    const y = yOf(lat, top).toFixed(1);
    const len = lat % 10 === 0 ? 5 : 3;
    tickD += 'M' + left + ' ' + y + 'h-' + len + 'M' + (left + PLOT_W) + ' ' + y + 'h' + len;
  }
  const ticks = makeEl('path', {d: tickD, fill: 'none', stroke: '#000', 'stroke-width': 1.5}, g);
  
  

  // panel title
  const title = makeEl('text', {x: left - 2, y: top - 9, 'font-size': 34.6}, g);
  title.textContent = date;
  
  
  if (row === 0){
    const tag = makeEl('text', {x: left + PLOT_W + 1, y: top - 9, 'font-size': 34.6, 'text-anchor': 'end'}, g);
    tag.textContent = columnTags[col];
    
    
  }
  if (col === 0){
    latTickValues.forEach(function(lat, i){
      const t = makeEl('text', {x: 74, y: yOf(lat, top) + 11.5, 'font-size': 34, 'text-anchor': 'end'}, g);
      t.textContent = latTickLabels[i];
      
      
    });
  }
  if (row === 3){
    lonTickValues.forEach(function(lon, i){
      const t = makeEl('text', {x: xOf(lon, left), y: top + PLOT_H + 55, 'font-size': 34.6, 'text-anchor': 'middle'}, g);
      t.textContent = lonTickLabels[i];
      
      
    });
  }
});

// ---------- colour bar ----------
const barRoot = document.getElementById('colorbar');
const BAR_X = 230, BAR_Y = 972, BAR_W = 54.8, BAR_H = 23;
bandColors.forEach(function(color, i){
  const box = makeEl('rect', {x: BAR_X + i * BAR_W, y: BAR_Y, width: BAR_W, height: BAR_H, fill: color, stroke: '#222', 'stroke-width': 1.4}, barRoot);
  
  
});
colorLevelLabels.forEach(function(label, i){
  const t = makeEl('text', {x: BAR_X + (i + 1) * BAR_W, y: 1023, 'font-size': 29, 'text-anchor': 'middle'}, barRoot);
  t.textContent = label;
  
  
});
</script>
</body>
</html>
